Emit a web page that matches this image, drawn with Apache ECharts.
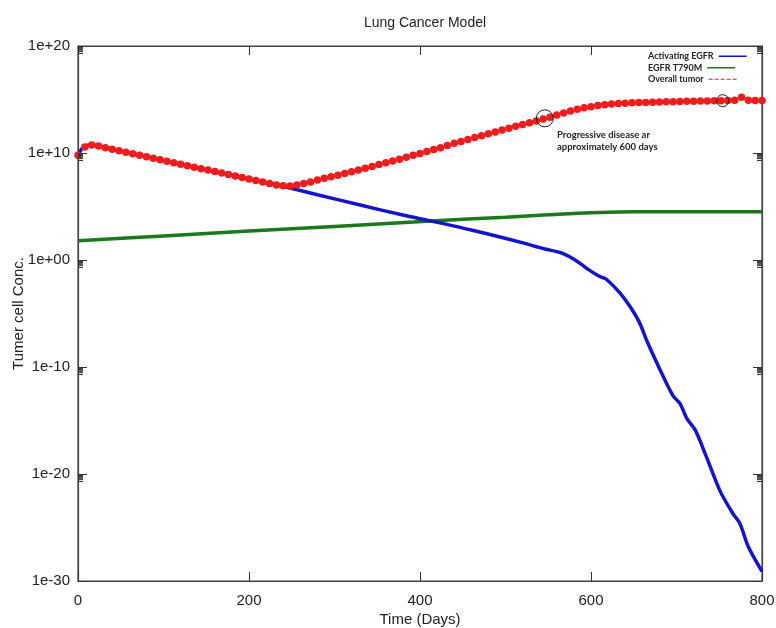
<!DOCTYPE html>
<html>
<head>
<meta charset="utf-8">
<script src="https://cdn.jsdelivr.net/npm/echarts@6/dist/echarts.min.js"></script>
<style>html,body{margin:0;padding:0;background:#fff;}#c{width:776px;height:628px;}</style>
</head>
<body>
<div id="c"></div>
<script>
// ---- data (values stored as log10 of concentration; y axis is in decades) ----
const blueDays = [0,5,10,16,50,100,150,200,228,240,280,330,380,413,460,517,546,564,575,587,598,607,612,618,634,646,657,665,681,696,704,712,722,735,751,766,774,784,800];
const blueLog  = [9.75,10.45,10.7,10.75,10.16,9.3,8.43,7.57,7.1,6.88,6.1,5.14,4.2,3.64,2.8,1.67,1.03,0.7,0.3,-0.3,-0.95,-1.4,-1.6,-1.8,-3.1,-4.4,-5.9,-7.5,-10.3,-12.7,-13.4,-14.8,-15.9,-18.4,-21.6,-23.7,-24.6,-26.8,-29.1];

const greenDays = [0,100,200,300,413,500,550,600,650,700,750,800];
const greenLog  = [1.8,2.25,2.7,3.14,3.64,4.0,4.22,4.42,4.5,4.52,4.52,4.52];

const redDays = [0,8,16,24,32,40,48,56,64,72,80,88,96,104,112,120,128,136,144,152,160,168,176,184,192,200,208,216,224,232,240,248,256,264,272,280,288,296,304,312,320,328,336,344,352,360,368,376,384,392,400,408,416,424,432,440,448,456,464,472,480,488,496,504,512,520,528,536,544,552,560,568,576,584,592,600,608,616,624,632,640,648,656,664,672,680,688,696,704,712,720,728,736,744,752,760,768,776,784,792,800];
const redLog = [9.8,10.55,10.75,10.65,10.5,10.35,10.2,10.06,9.92,9.78,9.64,9.5,9.37,9.23,9.09,8.95,8.81,8.67,8.53,8.4,8.26,8.12,7.98,7.84,7.7,7.56,7.42,7.28,7.15,7.02,6.94,6.92,7.0,7.15,7.3,7.48,7.63,7.78,7.93,8.08,8.25,8.42,8.58,8.75,8.92,9.08,9.25,9.42,9.6,9.78,9.96,10.14,10.32,10.5,10.7,10.9,11.08,11.26,11.44,11.62,11.8,11.97,12.15,12.32,12.5,12.66,12.82,12.98,13.18,13.35,13.55,13.75,13.93,14.08,14.22,14.33,14.43,14.52,14.58,14.63,14.66,14.69,14.71,14.73,14.75,14.77,14.79,14.8,14.82,14.83,14.84,14.86,14.87,14.88,14.89,14.9,14.92,15.2,14.93,14.91,14.9];

const circleDays = [546, 754];
const circleLog  = [13.24, 14.89];
const circleSizes = [17, 12];

const xTicks = [0, 200, 400, 600, 800];
const majorExponents = [-30, -20, -10, 0, 10, 20];
const minorMultipliers = [2, 3, 4, 5, 6, 7, 8, 9];

const seriesNames = ['Activating EGFR', 'EGFR T790M', 'Overall tumor'];

// ---- helpers ----
const pair = (xs, ys) => xs.map((d, i) => [d, ys[i]]);
const fmtExp = v => {
  const e = Math.round(v);
  const a = Math.abs(e);
  return '1e' + (e < 0 ? '-' : '+') + (a < 10 ? '0' + a : a);
};
const yMin = majorExponents[0];
const yMax = majorExponents[majorExponents.length - 1];
const xMin = xTicks[0], xMax = xTicks[xTicks.length - 1];
const minorVals = [];
majorExponents.forEach(k => minorMultipliers.forEach(m => {
  const v = (k - 1) + Math.log10(m);
  if (v >= yMin && v <= yMax) minorVals.push([xMin, v]);
}));

const FONT = 'Liberation Sans';
const chart = echarts.init(document.getElementById('c'), null, {renderer: 'canvas'});

const tickStyle = {inside: true, length: 9, lineStyle: {color: '#333', width: 1}};
const lineStyleAxis = {show: true, onZero: false, lineStyle: {color: '#444', width: 1.2}};

const legendIcons = ['rect', 'rect', 'path://M0 0h4v1H0z M6 0h4v1H6z M12 0h4v1h-4z M18 0h4v1h-4z M24 0h4v1h-4z'];
const legendTops = [50.5, 62, 73.5];
const legends = seriesNames.map((n, i) => ({
  orient: 'vertical', left: 648, top: legendTops[i], align: 'right',
  itemWidth: 28, itemHeight: 1.5, itemGap: 0, padding: 0,
  selectedMode: false,
  textStyle: {fontFamily: 'Lato', fontWeight: 'bold', fontSize: 9, color: '#222', lineHeight: 11.5},
  data: [{name: n, icon: legendIcons[i]}]
}));

chart.setOption({
  animation: false,
  backgroundColor: '#fff',
  title: {
    text: 'Lung Cancer Model',
    left: 420, textAlign: 'center', top: 11,
    textStyle: {fontFamily: FONT, fontSize: 14, fontWeight: 'normal', color: '#222'}
  },
  legend: legends,
  grid: {left: 78, right: 14, top: 46, bottom: 47, show: true, borderColor: '#444', borderWidth: 1.2,
         containLabel: false, outerBoundsMode: 'none'},
  xAxis: [{
    type: 'value', min: xMin, max: xMax, interval: 200,
    position: 'bottom',
    name: 'Time (Days)', nameLocation: 'middle', nameGap: 31, nameMoveOverlap: false,
    nameTextStyle: {fontFamily: FONT, fontSize: 15, color: '#222'},
    axisLine: lineStyleAxis, axisTick: tickStyle,
    axisLabel: {fontFamily: FONT, fontSize: 15, color: '#222', margin: 12},
    splitLine: {show: false}
  }, {
    type: 'value', min: xMin, max: xMax, interval: 200,
    position: 'top',
    axisLine: lineStyleAxis, axisTick: tickStyle,
    axisLabel: {show: false}, splitLine: {show: false}
  }],
  yAxis: [{
    type: 'value', min: yMin, max: yMax, interval: 10,
    position: 'left',
    name: 'Tumer cell Conc.', nameLocation: 'middle', nameGap: 52, nameMoveOverlap: false,
    nameTextStyle: {fontFamily: FONT, fontSize: 15, color: '#222'},
    axisLine: lineStyleAxis, axisTick: tickStyle,
    axisLabel: {fontFamily: FONT, fontSize: 15, color: '#222', margin: 8, formatter: fmtExp},
    splitLine: {show: false}
  }, {
    type: 'value', min: yMin, max: yMax, interval: 10,
    position: 'right',
    axisLine: lineStyleAxis, axisTick: tickStyle,
    axisLabel: {show: false}, splitLine: {show: false}
  }],
  graphic: [{
    type: 'text', left: 557, top: 129,
    style: {text: 'Progressive disease ar\napproximately 600 days', font: 'bold 9.5px Lato', fill: '#222', lineHeight: 12}
  }],
  series: [
    {
      name: seriesNames[1], type: 'line', data: pair(greenDays, greenLog),
      showSymbol: false, smooth: 0.3, color: '#1a7a1a',
      lineStyle: {width: 3.5, color: '#1a7a1a'}, z: 2
    },
    {
      name: seriesNames[0], type: 'line', data: pair(blueDays, blueLog),
      showSymbol: false, smooth: 0.3, color: '#1414cc',
      lineStyle: {width: 3.5, color: '#1414cc'}, z: 3
    },
    {
      name: seriesNames[2], type: 'scatter', data: pair(redDays, redLog),
      symbol: 'circle', symbolSize: 7.5, color: '#ee1c1c',
      itemStyle: {color: '#ee1c1c', opacity: 1}, z: 4
    },
    {
      name: 'marks', type: 'scatter',
      data: circleDays.map((d, i) => ({value: [d, circleLog[i]], symbolSize: circleSizes[i]})),
      symbol: 'circle',
      itemStyle: {color: 'rgba(0,0,0,0)', borderColor: '#222', borderWidth: 1, opacity: 1}, z: 5
    },
    {
      name: 'minorTicks', type: 'custom', data: minorVals, silent: true, z: 6,
      renderItem: function (params, api) {
        const v = api.value(1);
        const p = api.coord([xMin, v]);
        const q = api.coord([xMax, v]);
        return {type: 'group', children: [
          {type: 'line', shape: {x1: p[0], y1: p[1], x2: p[0] + 5, y2: p[1]}, style: {stroke: '#333', lineWidth: 1}},
          {type: 'line', shape: {x1: q[0] - 5, y1: q[1], x2: q[0], y2: q[1]}, style: {stroke: '#333', lineWidth: 1}}
        ]};
      }
    }
  ]
});
</script>
</body>
</html>
